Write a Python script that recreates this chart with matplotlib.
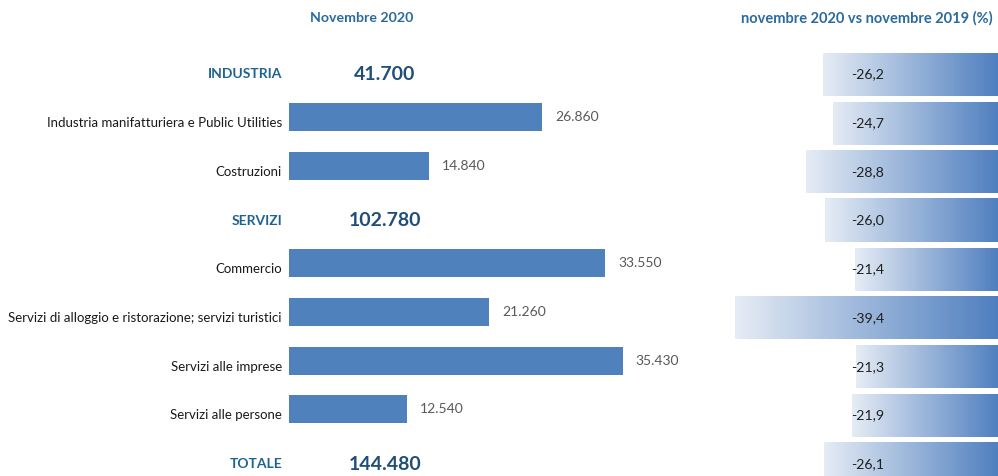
import numpy as np
import matplotlib
matplotlib.use("Agg")
import matplotlib.pyplot as plt
from matplotlib.colors import LinearSegmentedColormap

plt.rcParams['font.family'] = ['Lato', 'DejaVu Sans']

## ------------------------------
## data
labels = ['INDUSTRIA', 'Industria manifatturiera e Public Utilities', 'Costruzioni',
          'SERVIZI', 'Commercio', 'Servizi di alloggio e ristorazione; servizi turistici',
          'Servizi alle imprese', 'Servizi alle persone', 'TOTALE']
is_total = [True, False, False, True, False, False, False, False, True]
values = [41700, 26860, 14840, 102780, 33550, 21260, 35430, 12540, 144480]
var_pct = [-26.2, -24.7, -28.8, -26.0, -21.4, -39.4, -21.3, -21.9, -26.1]
title_left = 'Novembre 2020'
title_right = 'novembre 2020 vs novembre 2019 (%)'

def fmt_int(v):
    return '{:,}'.format(v).replace(',', '.')

def fmt_pct(v):
    return '{:.1f}'.format(v).replace('.', ',')

## ------------------------------
W, H = 998, 476
fig = plt.figure(figsize=(W / 100, H / 100), dpi=100)

row0 = 74.5     # pixel centre of first row
step = 48.7     # pixel distance between rows
ytop = -row0 / step
ybot = (H - row0) / step

# left panel: absolute values
px_unit = 0.00942
x0 = 289
xmax = 40000
ax = fig.add_axes([x0 / W, 0, xmax * px_unit / W, 1])
ax.set_xlim(0, xmax)
ax.set_ylim(ybot, ytop)
ax.axis('off')

off = 6 / step
for i, (lab, v, tot) in enumerate(zip(labels, values, is_total)):
    if tot:
        ax.text(-7 / px_unit, i, lab, ha='right', va='center', fontsize=10,
                fontweight='bold', color='#1F6391', clip_on=False)
        ax.text(96 / px_unit, i, fmt_int(v), ha='center', va='center', fontsize=14,
                fontweight='bold', color='#1F4E79', clip_on=False)
    else:
        ax.barh(i - off, v, height=28 / step, color='#4F81BD', edgecolor='none')
        ax.text(-7 / px_unit, i, lab, ha='right', va='center', fontsize=9.5,
                color='#1a1a1a', clip_on=False)
        ax.text(v + 13 / px_unit, i - off, fmt_int(v), ha='left', va='center',
                fontsize=10, color='#595959', clip_on=False)

ax.text(73 / px_unit, -1.16, title_left, ha='center', va='center', fontsize=10.2,
        fontweight='bold', color='#2A6A9E', clip_on=False)

# right panel: gradient data bars
pct_px = 6.67
xr_min = -45
ax2 = fig.add_axes([(W + xr_min * pct_px) / W, 0, -xr_min * pct_px / W, 1])
ax2.set_xlim(xr_min, 0)
ax2.set_ylim(ybot, ytop)
ax2.axis('off')

cmap = LinearSegmentedColormap.from_list('grad', ['#E6ECF5', '#4F7FBF'])
grad = np.linspace(0, 1, 256).reshape(1, -1)
bh = 43 / step
for i, p in enumerate(var_pct):
    ax2.imshow(grad, cmap=cmap, aspect='auto', interpolation='bicubic',
               extent=[p, 0, i + bh / 2, i - bh / 2], zorder=1)
    ax2.text(-22.05, i, fmt_pct(p), ha='left', va='center', fontsize=10.2,
             color='#1f1f1f', zorder=3)
ax2.set_xlim(xr_min, 0)
ax2.set_ylim(ybot, ytop)
ax2.text(-(W - 867) / pct_px, -1.16, title_right, ha='center', va='center',
         fontsize=10.5, fontweight='bold', color='#2A6A9E', clip_on=False)

plt.savefig('out.png', dpi=100)
